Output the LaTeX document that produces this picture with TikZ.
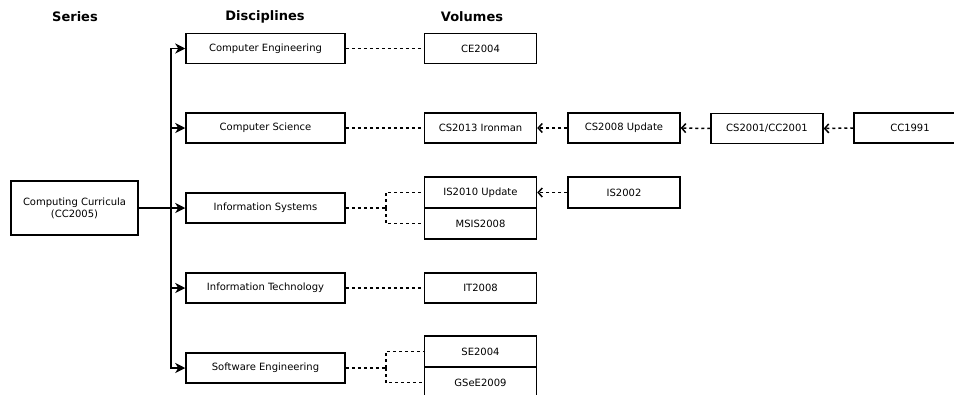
\documentclass[tikz,border=0pt]{standalone}
\usepackage{fontspec}
\setmainfont{DejaVu Sans}
\usetikzlibrary{arrows.meta}
\begin{document}
\begin{tikzpicture}[x=1pt,y=-1pt,
  box/.style={draw=black,fill=white,line width=1.5pt,inner sep=0pt,font=\fontsize{10}{12}\selectfont,align=center},
  disc/.style={box,minimum width=159pt,minimum height=30pt},
  vol/.style={box,minimum width=112pt,minimum height=30pt},
  volh/.style={box,minimum width=112pt,minimum height=31pt},
  hdr/.style={font=\bfseries\fontsize{13}{15}\selectfont},
  arr/.style={line width=1.5pt,-{Stealth[length=10pt,width=10pt,inset=3pt]}},
  dsh/.style={line width=1.5pt,dash pattern=on 3pt off 3pt},
  darr/.style={dsh,-{Straight Barb[length=4pt,width=9pt,line width=1.5pt]}}]
\useasboundingbox (0,0) rectangle (954,394);
\node[hdr] (h1) at (75,17) {Series};
\node[hdr] (h2) at (265,17) {Disciplines};
\node[hdr] (h3) at (472,17) {Volumes};
\node[box,minimum width=127pt,minimum height=54pt] (cc) at (74.5,208) {Computing Curricula\\(CC2005)};
\node[disc] (ce) at (265.5,48.5) {Computer Engineering};
\node[disc] (cs) at (265.5,128) {Computer Science};
\node[disc] (is) at (265.5,208) {Information Systems};
\node[disc] (it) at (265.5,288) {Information Technology};
\node[disc] (se) at (265.5,368) {Software Engineering};
\node[vol] (ce04) at (480.5,48.5) {CE2004};
\node[vol] (cs13) at (480.5,128) {CS2013 Ironman};
\node[volh] (is10) at (480.5,192.5) {IS2010 Update};
\node[volh] (msis) at (480.5,223.5) {MSIS2008};
\node[vol] (it08) at (480.5,288) {IT2008};
\node[volh] (se04) at (480.5,351.5) {SE2004};
\node[volh] (gse) at (480.5,382.5) {GSeE2009};
\node[vol] (cs08) at (624,128) {CS2008 Update};
\node[vol] (cs01) at (767,128.5) {CS2001/CC2001};
\node[vol] (cc91) at (910,128) {CC1991};
\node[volh] (is02) at (624,192.5) {IS2002};
% solid connectors
\coordinate (jt) at (171,208);
\draw[arr] (cc.east) -- (is.west);
\draw[line width=1.5pt] (jt |- ce.west) -- (jt |- se.west);
\draw[arr] (jt) |- (ce.west);
\draw[arr] (jt) |- (cs.west);
\draw[arr] (jt) |- (it.west);
\draw[arr] (jt) |- (se.west);
% dashed connectors
\draw[dsh] (ce.east) -- (ce04.west);
\draw[dsh] (cs.east) -- (cs13.west);
\draw[dsh] (it.east) -- (it08.west);
\draw[dsh] (is.east) -- ++(40,0) coordinate (isj);
\draw[dsh] (isj) |- (is10.west);
\draw[dsh] (isj) |- (msis.west);
\draw[dsh] (se.east) -- ++(40,0) coordinate (sej);
\draw[dsh] (sej) |- (se04.west);
\draw[dsh] (sej) |- (gse.west);
\draw[darr] (cs08.west) -- (cs13.east);
\draw[darr] (cs01.west) -- (cs08.east);
\draw[darr] (cc91.west) -- (cs01.east);
\draw[darr] (is02.west) -- (is10.east);
\end{tikzpicture}
\end{document}
